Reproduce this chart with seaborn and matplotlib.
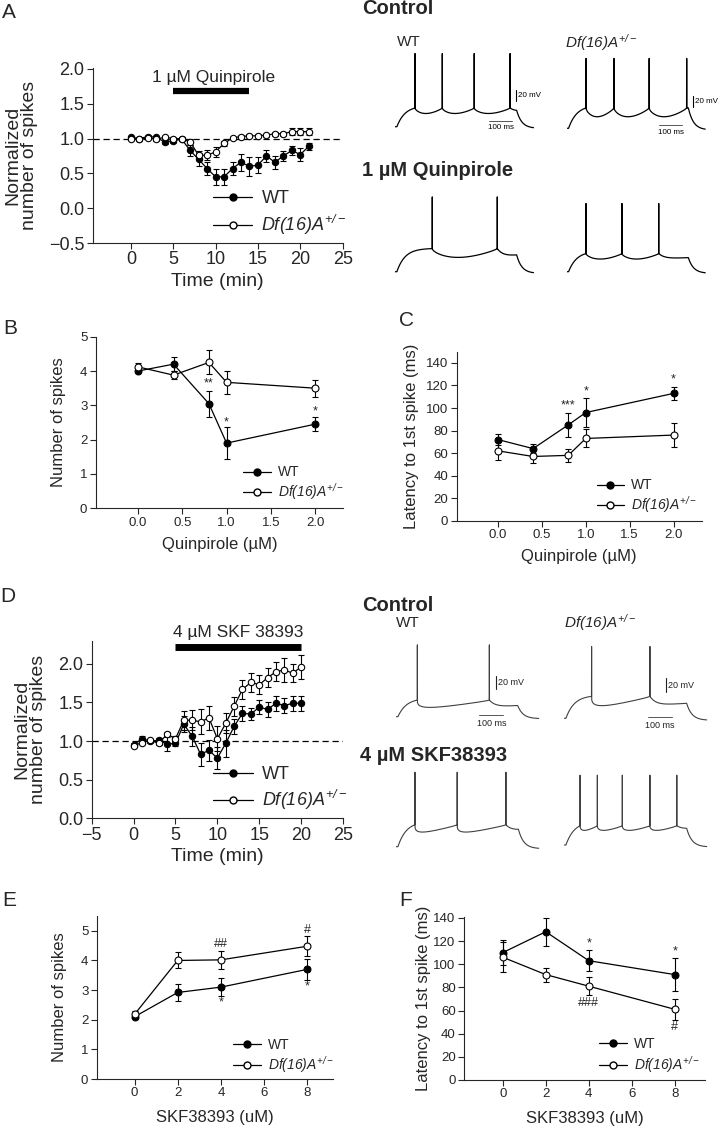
import numpy as np
import matplotlib
matplotlib.use("Agg")
import matplotlib.pyplot as plt
import seaborn as sns
from matplotlib.lines import Line2D

sns.set_style("ticks")
plt.rcParams['font.family'] = ['Liberation Sans', 'DejaVu Sans']
plt.rcParams['mathtext.fontset'] = 'custom'
# the only math text is the italic genotype label, so rm is italic too
plt.rcParams['mathtext.rm'] = 'Liberation Sans:italic'
plt.rcParams['mathtext.it'] = 'Liberation Sans:italic'
plt.rcParams['mathtext.bf'] = 'Liberation Sans:bold'
plt.rcParams['axes.linewidth'] = 0.8

DF = r"$Df(16)A^{+/-}$"

# ---- panel A: quinpirole time course ----
time_a = list(range(22))
wt_a = [1.02, 1.00, 1.03, 1.02, 0.95, 0.97, 0.99, 0.83, 0.70, 0.57, 0.45, 0.45,
        0.57, 0.66, 0.60, 0.62, 0.75, 0.66, 0.75, 0.83, 0.77, 0.89]
wt_a_err = [0.02, 0.02, 0.02, 0.02, 0.03, 0.03, 0.03, 0.08, 0.09, 0.10, 0.12, 0.12,
            0.10, 0.12, 0.14, 0.12, 0.09, 0.09, 0.07, 0.07, 0.09, 0.05]
df_a = [1.00, 0.99, 1.01, 0.99, 1.02, 1.00, 1.00, 0.95, 0.76, 0.76, 0.81, 0.93,
        1.01, 1.03, 1.04, 1.04, 1.05, 1.07, 1.07, 1.10, 1.10, 1.10]
df_a_err = [0.02, 0.02, 0.02, 0.02, 0.02, 0.02, 0.02, 0.04, 0.06, 0.07, 0.07, 0.04,
            0.02, 0.02, 0.02, 0.02, 0.02, 0.03, 0.03, 0.05, 0.05, 0.05]
drug_a = (5, 14)

# ---- panel B / C: quinpirole dose ----
conc_q = [0.0, 0.4, 0.8, 1.0, 2.0]
wt_b = [4.0, 4.2, 3.05, 1.9, 2.45]
wt_b_err = [0.06, 0.2, 0.38, 0.46, 0.2]
df_b = [4.12, 3.88, 4.25, 3.67, 3.5]
df_b_err = [0.1, 0.12, 0.35, 0.33, 0.25]
wt_c = [72, 64, 85, 96, 113]
wt_c_err = [5, 4, 11, 13, 6]
df_c = [62, 57, 58, 73, 76]
df_c_err = [8, 6, 6, 8, 11]

# ---- panel D: SKF time course ----
time_d = list(range(21))
wt_d = [0.95, 1.03, 1.00, 1.01, 0.96, 0.97, 1.22, 1.06, 0.83, 0.88, 0.78, 0.97,
        1.19, 1.36, 1.35, 1.44, 1.41, 1.49, 1.46, 1.49, 1.49]
wt_d_err = [0.02, 0.04, 0.02, 0.03, 0.09, 0.03, 0.10, 0.12, 0.15, 0.14, 0.14, 0.18,
            0.10, 0.10, 0.08, 0.09, 0.10, 0.10, 0.10, 0.10, 0.10]
df_d = [0.94, 0.98, 1.01, 0.97, 1.09, 1.03, 1.27, 1.27, 1.25, 1.30, 1.03, 1.23,
        1.45, 1.67, 1.76, 1.73, 1.82, 1.90, 1.92, 1.88, 1.96]
df_d_err = [0.02, 0.02, 0.02, 0.02, 0.03, 0.03, 0.12, 0.13, 0.16, 0.15, 0.16, 0.13,
            0.12, 0.12, 0.12, 0.12, 0.12, 0.12, 0.15, 0.12, 0.15]
drug_d = (5, 20)

# ---- panel E / F: SKF dose ----
conc_s = [0, 2, 4, 8]
wt_e = [2.1, 2.92, 3.1, 3.7]
wt_e_err = [0.07, 0.3, 0.3, 0.35]
df_e = [2.18, 4.0, 4.02, 4.48]
df_e_err = [0.12, 0.27, 0.3, 0.33]
wt_f = [110, 128, 103, 91]
wt_f_err = [11, 12, 9, 14]
df_f = [106, 91, 81, 61]
df_f_err = [13, 6, 8, 9]

# ---- example traces: spike times (ms) and levels (mV above rest) ----
# name: (spikes, threshold, peak, trough, step off)
traces_a = {
    "wt_ctrl": ([86, 203, 340, 494], 34, 133, 24, 522),
    "df_ctrl": ([83, 203, 354, 515], 37, 127, 21, 522),
    "wt_quin": ([160, 439], 42, 136, 26, 522),
    "df_quin": ([83, 237, 395], 33, 124, 23, 522),
}
traces_d = {
    "wt_ctrl": ([89, 389], 25, 108, 14, 507),
    "df_ctrl": ([115, 358], 33, 108, 19, 511),
    "wt_skf": ([79, 255, 458], 33, 112, 22, 510),
    "df_skf": ([67, 139, 243, 358, 470], 29, 105, 22, 511),
}

W, H = 723, 1130
fig = plt.figure(figsize=(W / 100, H / 100), dpi=100)


def box(left, top, right, bottom):
    return [left / W, 1 - bottom / H, (right - left) / W, (bottom - top) / H]


def style(ax, tick_size):
    sns.despine(ax=ax)
    ax.tick_params(direction='out', length=4, width=0.8, labelsize=tick_size, pad=2)


def draw_pair(ax, x, wt, wt_err, df, df_err, ms, lw=0.9):
    ax.errorbar(x, wt, yerr=wt_err, fmt='none', ecolor='black', elinewidth=0.8,
                capsize=2.2, capthick=0.8, zorder=2)
    sns.lineplot(x=x, y=wt, ax=ax, color='black', marker='o', markersize=ms,
                 markerfacecolor='black', markeredgecolor='black', linewidth=lw,
                 zorder=3)
    ax.errorbar(x, df, yerr=df_err, fmt='none', ecolor='black', elinewidth=0.8,
                capsize=2.2, capthick=0.8, zorder=4)
    sns.lineplot(x=x, y=df, ax=ax, color='black', marker='o', markersize=ms,
                 markerfacecolor='white', markeredgecolor='black', linewidth=lw,
                 markeredgewidth=0.8, zorder=5)


def add_legend(ax, xa, ya, size, ms, hlen, spacing):
    h = [Line2D([], [], color='black', marker='o', markersize=ms, mfc='black', lw=0.9),
         Line2D([], [], color='black', marker='o', markersize=ms, mfc='white', lw=0.9)]
    ax.legend(h, ['WT', DF], loc='upper left', bbox_to_anchor=(xa, ya), frameon=False,
              fontsize=size, handlelength=hlen, handletextpad=0.5, borderpad=0,
              borderaxespad=0, labelspacing=spacing)


# ---------- A ----------
ax = fig.add_axes(box(92.7, 67.6, 342.7, 243))
draw_pair(ax, time_a, wt_a, wt_a_err, df_a, df_a_err, ms=4.6)
ax.axhline(1.0, color='black', lw=0.9, ls=(0, (5, 3)), zorder=1)
ax.plot(drug_a, [1.69, 1.69], color='black', lw=4.5, solid_capstyle='butt')
ax.text(np.mean(drug_a) + 0.3, 1.88, "1 µM Quinpirole", ha='center', va='center', fontsize=12.5)
ax.set_xlim(-4.5, 25)
ax.set_ylim(-0.5, 2.02)
ax.set_xticks(range(0, 26, 5))
ax.set_yticks(np.arange(-0.5, 2.01, 0.5))
ax.set_xlabel("Time (min)", fontsize=14, labelpad=3)
ax.set_ylabel("Normalized\nnumber of spikes", fontsize=14, linespacing=0.95, labelpad=8)
style(ax, 13)
add_legend(ax, 0.48, 0.30, 13, 5, 2.2, 0.3)

# ---------- B ----------
ax = fig.add_axes(box(95.7, 336.7, 343.3, 508.3))
draw_pair(ax, conc_q, wt_b, wt_b_err, df_b, df_b_err, ms=5)
ax.set_xlim(-0.48, 2.32)
ax.set_ylim(0, 5)
ax.set_xticks([0.0, 0.5, 1.0, 1.5, 2.0])
ax.set_xticklabels(["0.0", "0.5", "1.0", "1.5", "2.0"])
ax.set_yticks(range(6))
ax.set_xlabel("Quinpirole (µM)", fontsize=12, labelpad=6)
ax.set_ylabel("Number of spikes", fontsize=12, labelpad=10)
style(ax, 9.5)
for xi, yi, s in [(0.8, wt_b[2] + wt_b_err[2] + 0.04, "**"),
                  (1.0, wt_b[3] + wt_b_err[3] - 0.02, "*"),
                  (2.0, wt_b[4] + wt_b_err[4] + 0.0, "*")]:
    ax.text(xi, yi, s, ha='center', va='bottom', fontsize=9)
add_legend(ax, 0.595, 0.25, 10, 5, 2.0, 0.15)

# ---------- C ----------
ax = fig.add_axes(box(456.7, 351.7, 701.7, 520.7))
draw_pair(ax, conc_q, wt_c, wt_c_err, df_c, df_c_err, ms=5)
ax.set_xlim(-0.47, 2.32)
ax.set_ylim(0, 150)
ax.set_xticks([0.0, 0.5, 1.0, 1.5, 2.0])
ax.set_xticklabels(["0.0", "0.5", "1.0", "1.5", "2.0"])
ax.set_yticks(range(0, 141, 20))
ax.set_xlabel("Quinpirole (µM)", fontsize=12, labelpad=6)
ax.set_ylabel("Latency to 1st spike (ms)", fontsize=12, labelpad=5)
style(ax, 9.5)
for xi, yi, s in [(0.8, wt_c[2] + wt_c_err[2] + 1, "***"),
                  (1.0, wt_c[3] + wt_c_err[3] + 0, "*"),
                  (2.0, wt_c[4] + wt_c_err[4] + 1, "*")]:
    ax.text(xi, yi, s, ha='center', va='bottom', fontsize=9)
add_legend(ax, 0.571, 0.25, 10, 5, 2.0, 0.15)

# ---------- D ----------
ax = fig.add_axes(box(91.7, 640.7, 343, 818.3))
draw_pair(ax, time_d, wt_d, wt_d_err, df_d, df_d_err, ms=4.6)
ax.axhline(1.0, color='black', lw=0.9, ls=(0, (5, 3)), zorder=1)
ax.plot(drug_d, [2.22, 2.22], color='black', lw=5, solid_capstyle='butt', clip_on=False)
ax.text(np.mean(drug_d), 2.40, "4 µM SKF 38393", ha='center', va='center', fontsize=12.5,
        clip_on=False)
ax.set_xlim(-5, 25)
ax.set_ylim(0, 2.3)
ax.set_xticks(range(-5, 26, 5))
ax.set_yticks(np.arange(0, 2.01, 0.5))
ax.set_xlabel("Time (min)", fontsize=14, labelpad=3)
ax.set_ylabel("Normalized\nnumber of spikes", fontsize=14, linespacing=0.95, labelpad=8)
style(ax, 13)
add_legend(ax, 0.483, 0.295, 13, 5, 2.2, 0.3)

# ---------- E ----------
ax = fig.add_axes(box(96.7, 916, 333.3, 1079))
draw_pair(ax, conc_s, wt_e, wt_e_err, df_e, df_e_err, ms=5)
ax.set_xlim(-1.75, 9.2)
ax.set_ylim(0, 5.5)
ax.set_xticks(range(0, 9, 2))
ax.set_yticks(range(6))
ax.set_xlabel("SKF38393 (uM)", fontsize=12, labelpad=8)
ax.set_ylabel("Number of spikes", fontsize=12, labelpad=10)
style(ax, 9.5)
ax.text(4, df_e[2] + df_e_err[2] + 0.02, "##", ha='center', va='bottom', fontsize=9)
ax.text(8, df_e[3] + df_e_err[3] + 0.02, "#", ha='center', va='bottom', fontsize=9)
ax.text(4, wt_e[2] - wt_e_err[2] - 0.02, "*", ha='center', va='top', fontsize=9)
ax.text(8, wt_e[3] - wt_e_err[3] - 0.02, "*", ha='center', va='top', fontsize=9)
add_legend(ax, 0.577, 0.25, 10, 5, 2.0, 0.15)

# ---------- F ----------
ax = fig.add_axes(box(464, 916.7, 705, 1080))
draw_pair(ax, conc_s, wt_f, wt_f_err, df_f, df_f_err, ms=5)
ax.set_xlim(-1.8, 9.4)
ax.set_ylim(0, 141)
ax.set_xticks(range(0, 9, 2))
ax.set_yticks(range(0, 141, 20))
ax.set_xlabel("SKF38393 (uM)", fontsize=12, labelpad=8)
ax.set_ylabel("Latency to 1st spike (ms)", fontsize=12, labelpad=2)
style(ax, 9.5)
ax.text(4, wt_f[2] + wt_f_err[2] + 0.5, "*", ha='center', va='bottom', fontsize=9)
ax.text(8, wt_f[3] + wt_f_err[3] + 0.5, "*", ha='center', va='bottom', fontsize=9)
ax.text(4, df_f[2] - df_f_err[2] - 1, "###", ha='center', va='top', fontsize=9)
ax.text(8, df_f[3] - df_f_err[3] - 1, "#", ha='center', va='top', fontsize=9)
add_legend(ax, 0.561, 0.266, 10, 5, 2.0, 0.25)


# ---------- example traces ----------
def make_trace(spikes, thr, peak, trough, t_off, skew, t_on=8.0, t_end=595.0, tau=35.0):
    t = np.arange(0.0, t_end, 0.5)
    v = np.zeros_like(t)
    s = list(spikes)
    m = (t >= t_on) & (t < s[0])
    v[m] = thr * (1 - np.exp(-(t[m] - t_on) / tau)) / (1 - np.exp(-(s[0] - t_on) / tau))
    ends = s[1:] + [t_off]
    for i, (a, b) in enumerate(zip(s, ends)):
        m = (t >= a) & (t < b)
        last = i == len(s) - 1
        dt = t[m] - a
        span = max(b - a, 1)
        depth = thr - trough
        if last:
            # slow fall to the trough, then flat until the step ends
            v[m] = trough + depth * np.exp(-dt / 25.0) + 0.25 * depth * dt / span
        else:
            # rounded dip between spikes, back to threshold at the next one
            g = (dt / span) ** skew
            v[m] = thr - depth * np.sin(np.pi * g) ** 0.8
    for a in s:
        v[np.argmin(np.abs(t - a))] = peak
    m = t >= t_off
    v_off = v[~m][-1]
    v[m] = (v_off + 3) * np.exp(-(t[m] - t_off) / 22.0) - 3
    return t, v


def trace_axes(x0, y0, sx, sy):
    ax = fig.add_axes(box(x0, y0 - 160 * sy, x0 + 620 * sx, y0 + 20 * sy))
    ax.set_xlim(0, 620)
    ax.set_ylim(-20, 160)
    ax.axis('off')
    return ax


def draw_trace(ax, params, color, lw, skew):
    spikes, thr, peak, trough, t_off = params
    t, v = make_trace(spikes, thr, peak, trough, t_off, skew)
    sns.lineplot(x=t, y=v, ax=ax, color=color, linewidth=lw, sort=False, estimator=None)


def scale_bars(ax, tv, v0, th, vh, color, size, ttop):
    ax.plot([tv, tv], [v0, v0 + 20], color=color, lw=0.8)
    ax.text(tv + 8, v0 + 10, "20 mV", fontsize=size, va='center', ha='left', color=color)
    ax.plot([th, th + 100], [vh, vh], color='#555555', lw=0.7)
    ax.text(th + 50, ttop, "100 ms", fontsize=size, va='top', ha='center', color=color)


sa_x, sa_y = 0.233, 0.55
ax = trace_axes(395, 126.7, sa_x, sa_y)
draw_trace(ax, traces_a["wt_ctrl"], 'black', 0.9, 0.75)
scale_bars(ax, 519, 47, 403, 11, 'black', 5.8, 5)
ax = trace_axes(566.7, 128.3, sa_x, sa_y)
draw_trace(ax, traces_a["df_ctrl"], 'black', 0.9, 0.75)
scale_bars(ax, 543, 38, 396, 6, 'black', 5.8, -1)
ax = trace_axes(395, 271.7, sa_x, sa_y)
draw_trace(ax, traces_a["wt_quin"], 'black', 0.9, 0.75)
ax = trace_axes(566.7, 271.7, sa_x, sa_y)
draw_trace(ax, traces_a["df_quin"], 'black', 0.9, 0.75)

sd_x, sd_y = 0.24, 0.665
gray = '#404040'
ax = trace_axes(396, 716.7, sd_x, sd_y)
draw_trace(ax, traces_d["wt_ctrl"], gray, 0.8, 0.4)
scale_bars(ax, 417, 41, 347, 2.5, '#222222', 6.5, -3)
ax = trace_axes(564, 718.3, sd_x, sd_y)
draw_trace(ax, traces_d["df_ctrl"], gray, 0.8, 0.4)
scale_bars(ax, 425, 40, 351, 2.4, '#222222', 6.5, -4)
ax = trace_axes(396, 846.7, sd_x, sd_y)
draw_trace(ax, traces_d["wt_skf"], gray, 0.8, 0.4)
ax = trace_axes(564, 845, sd_x, sd_y)
draw_trace(ax, traces_d["df_skf"], gray, 0.8, 0.5)


def ftext(x, y, s, **kw):
    fig.text(x / W, 1 - y / H, s, **kw)


# trace headings
ftext(361.7, 9, "Control", fontsize=14.5, fontweight='bold', va='center')
ftext(396.7, 42.5, "WT", fontsize=11, va='center')
ftext(565, 42.5, DF, fontsize=11, va='center')
ftext(361.7, 170.5, "1 µM Quinpirole", fontsize=14.5, fontweight='bold', va='center')
ftext(361.7, 605, "Control", fontsize=14.5, fontweight='bold', va='center')
ftext(396, 623, "WT", fontsize=11, va='center')
ftext(564, 623, DF, fontsize=11, va='center')
ftext(360, 755.5, "4 µM SKF38393", fontsize=14.5, fontweight='bold', va='center')

# panel letters
for lx, ly, letter in [(9, 12, "A"), (10, 328, "B"), (407, 321, "C"),
                       (8, 597, "D"), (9, 900, "E"), (406, 900, "F")]:
    ftext(lx, ly, letter, fontsize=15, ha='center', va='center')

fig.savefig("out.png", dpi=100)
